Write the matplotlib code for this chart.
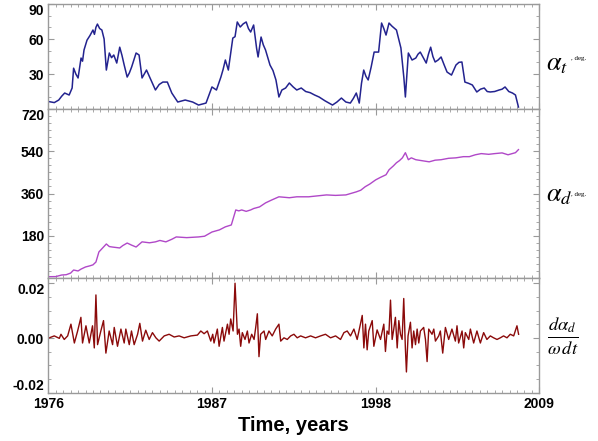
import matplotlib
matplotlib.use('Agg')
import matplotlib.pyplot as plt
from matplotlib.ticker import MultipleLocator

plt.rcParams['mathtext.fontset'] = 'stix'
plt.rcParams['font.family'] = ['Liberation Sans', 'DejaVu Sans']

# tilt angle, deg
tilt_years = [1976.07, 1976.4, 1976.7, 1976.9, 1977.1, 1977.4, 1977.6, 1977.7, 1977.85, 1978.0,
              1978.2, 1978.3, 1978.4, 1978.6, 1978.8, 1979.0, 1979.1, 1979.2, 1979.3, 1979.45,
              1979.6, 1979.75, 1979.9, 1980.1, 1980.25, 1980.4, 1980.6, 1980.8, 1980.95, 1981.1,
              1981.3, 1981.45, 1981.6, 1981.9, 1982.1, 1982.3, 1982.45, 1982.6, 1982.9, 1983.2,
              1983.45, 1983.7, 1984.0, 1984.3, 1984.7, 1985.2, 1985.7, 1986.1, 1986.6, 1987.0,
              1987.3, 1987.6, 1987.75, 1987.9, 1988.1, 1988.4, 1988.55, 1988.7, 1988.9, 1989.1,
              1989.3, 1989.45, 1989.6, 1989.8, 1990.0, 1990.1, 1990.3, 1990.45, 1990.6, 1990.9,
              1991.1, 1991.3, 1991.5, 1991.7, 1991.95, 1992.2, 1992.45, 1992.7, 1993.0, 1993.3,
              1993.6, 1993.9, 1994.2, 1994.6, 1995.1, 1995.4, 1995.7, 1996.0, 1996.3, 1996.5,
              1996.7, 1996.9, 1997.05, 1997.2, 1997.35, 1997.5, 1997.7, 1997.9, 1998.2, 1998.4,
              1998.55, 1998.7, 1998.9, 1999.1, 1999.4, 1999.55, 1999.7, 1999.9, 2000.0, 2000.2,
              2000.45, 2000.7, 2000.85, 2001.0, 2001.2, 2001.4, 2001.55, 2001.7, 2001.85, 2002.0,
              2002.2, 2002.4, 2002.6, 2002.8, 2003.1, 2003.4, 2003.6, 2003.8, 2004.0, 2004.25,
              2004.5, 2004.8, 2005.05, 2005.3, 2005.5, 2005.7, 2006.0, 2006.3, 2006.5, 2006.7,
              2006.95, 2007.2, 2007.4, 2007.6]
tilt_deg = [6.3, 5.5, 7.7, 11, 13.7, 12, 18, 35, 30, 26.6,
            43.7, 41, 50.6, 59, 63, 67.7, 64, 70, 72.8, 69,
            67.7, 60, 33.4, 48, 44, 46.3, 39.4, 53, 46, 37.7,
            27.4, 31, 36, 48, 46.3, 26.6, 30, 33.4, 24.9, 16.3,
            21, 23.1, 23.1, 13.7, 6, 7.7, 6, 3.4, 5.1, 18.9,
            16.3, 27.4, 34, 42, 33.4, 60.8, 62, 74.6, 70.3, 73,
            74.6, 69, 66, 72, 52, 44.6, 61.7, 55, 50.6, 37.7,
            33, 24.9, 10.3, 16.3, 18, 22.3, 19, 16.3, 18, 15,
            14, 12, 10.3, 7, 3.4, 6, 9.4, 6, 5.1, 9,
            13.7, 5.1, 22, 33.4, 28, 24.9, 36, 48.8, 48.8, 73.7,
            69, 63.4, 73.7, 71, 67.7, 60, 52.3, 26.6, 10.3, 48,
            42, 43.7, 47, 48.8, 44, 39.4, 47, 53, 45, 40.3,
            42, 44.6, 38, 31.7, 29.1, 37.7, 40, 40.3, 23.1, 22,
            20.6, 14.6, 17, 18, 15, 14.6, 15, 16.3, 17, 18.9,
            15, 13.7, 12, 1.7]

# drift angle, deg
drift_years = [1976.07, 1976.5, 1976.9, 1977.2, 1977.5, 1977.7, 1978.0, 1978.2, 1978.5, 1978.8,
               1979.0, 1979.2, 1979.4, 1979.65, 1979.9, 1980.1, 1980.3, 1980.8, 1981.0, 1981.3,
               1981.6, 1981.9, 1982.3, 1982.8, 1983.2, 1983.5, 1983.9, 1984.3, 1984.6, 1985.3,
               1986.1, 1986.5, 1987.0, 1987.5, 1987.9, 1988.3, 1988.6, 1988.8, 1989.0, 1989.3,
               1989.6, 1989.8, 1990.2, 1990.6, 1991.0, 1991.5, 1992.2, 1992.7, 1993.5, 1994.1,
               1994.7, 1995.3, 1996.0, 1996.7, 1997.0, 1997.3, 1997.6, 1998.0, 1998.3, 1998.7,
               1998.9, 1999.2, 1999.4, 1999.6, 1999.8, 2000.0, 2000.2, 2000.4, 2000.7, 2001.1,
               2001.6, 2002.0, 2002.4, 2002.9, 2003.4, 2003.9, 2004.3, 2004.7, 2005.1, 2005.6,
               2006.0, 2006.5, 2006.9, 2007.4, 2007.6]
drift_deg = [5.6, 6, 12.8, 14, 21, 34, 30, 38, 47, 52,
             56, 68, 111, 128, 145, 134, 132, 128, 138, 149,
             140, 132, 154, 150, 154, 160, 154, 165, 175, 172,
             175, 178, 196, 205, 218, 226, 290, 286, 290, 284,
             290, 296, 303, 320, 332, 346, 342, 346, 346, 350,
             354, 352, 354, 367, 374, 389, 400, 418, 428, 440,
             461, 478, 491, 500, 512, 534, 504, 512, 504, 500,
             495, 502, 504, 510, 512, 517, 517, 525, 530, 527,
             530, 533, 525, 534, 547]

# normalised drift rate
rate_years = [1976.07, 1976.40, 1976.74, 1976.85, 1977.07, 1977.30, 1977.52, 1977.75, 1977.97, 1978.19,
              1978.30, 1978.53, 1978.75, 1978.97, 1979.09, 1979.20, 1979.31, 1979.53, 1979.71, 1979.87,
              1980.09, 1980.32, 1980.43, 1980.65, 1980.88, 1981.10, 1981.21, 1981.44, 1981.59, 1981.77,
              1982.00, 1982.15, 1982.33, 1982.55, 1982.78, 1983.00, 1983.23, 1983.45, 1983.79, 1984.12,
              1984.46, 1984.79, 1985.13, 1985.58, 1986.02, 1986.25, 1986.47, 1986.69, 1986.92, 1987.05,
              1987.14, 1987.36, 1987.48, 1987.70, 1987.81, 1988.04, 1988.15, 1988.26, 1988.42, 1988.55,
              1988.71, 1988.82, 1988.93, 1989.04, 1989.22, 1989.38, 1989.49, 1989.67, 1989.83, 1989.94,
              1990.05, 1990.16, 1990.27, 1990.50, 1990.61, 1990.83, 1991.05, 1991.28, 1991.50, 1991.62,
              1991.84, 1992.06, 1992.29, 1992.51, 1992.73, 1992.96, 1993.29, 1993.63, 1993.96, 1994.30,
              1994.63, 1994.97, 1995.31, 1995.64, 1995.87, 1996.09, 1996.31, 1996.54, 1996.76, 1996.98,
              1997.10, 1997.21, 1997.32, 1997.43, 1997.54, 1997.77, 1997.88, 1998.10, 1998.33, 1998.55,
              1998.66, 1998.77, 1998.89, 1999.00, 1999.11, 1999.22, 1999.33, 1999.45, 1999.56, 1999.67,
              1999.78, 1999.89, 2000.00, 2000.07, 2000.18, 2000.34, 2000.45, 2000.56, 2000.68, 2000.79,
              2000.90, 2001.01, 2001.23, 2001.35, 2001.46, 2001.57, 2001.79, 2001.91, 2002.02, 2002.24,
              2002.35, 2002.51, 2002.69, 2002.91, 2003.13, 2003.36, 2003.47, 2003.58, 2003.81, 2003.92,
              2004.03, 2004.26, 2004.37, 2004.59, 2004.81, 2005.04, 2005.26, 2005.48, 2005.71, 2005.93,
              2006.16, 2006.38, 2006.60, 2006.83, 2007.05, 2007.28, 2007.50, 2007.61]
rate = [0.0001, 0.0008, -0.0001, 0.0014, -0.0005, 0.0008, 0.0051, -0.0018, 0.0026, 0.0076,
        -0.0018, 0.0045, -0.0018, 0.0045, -0.0036, 0.0158, -0.0024, 0.0026, 0.0064, -0.0055,
        0.0026, -0.0024, 0.0039, -0.0030, 0.0033, -0.0018, 0.0033, -0.0024, 0.0026, -0.0024,
        0.0014, 0.0054, -0.0011, 0.0029, -0.0005, 0.0020, 0.0001, -0.0011, 0.0008, 0.0014,
        0.0004, 0.0008, 0.0001, 0.0008, 0.0011, 0.0026, 0.0016, 0.0026, -0.0011, 0.0014,
        -0.0018, 0.0033, -0.0030, 0.0039, -0.0011, 0.0051, 0.0014, 0.0070, 0.0026, 0.0201,
        0.0014, 0.0033, -0.0030, 0.0020, -0.0005, 0.0026, -0.0018, 0.0014, -0.0005, 0.0039,
        0.0089, -0.0068, 0.0014, 0.0026, -0.0005, 0.0026, 0.0008, 0.0033, 0.0051, -0.0011,
        0.0001, -0.0005, 0.0008, 0.0014, 0.0001, 0.0008, 0.0001, 0.0008, 0.0001, 0.0008,
        0.0014, 0.0001, 0.0008, -0.0005, 0.0020, 0.0026, 0.0008, 0.0033, -0.0005, 0.0051,
        0.0083, -0.0036, 0.0051, -0.0043, 0.0026, 0.0064, -0.0030, 0.0030, -0.0005, 0.0051,
        -0.0049, 0.0026, 0.0014, 0.0139, -0.0005, 0.0033, 0.0076, -0.0036, 0.0064, 0.0014,
        -0.0005, 0.0145, -0.0036, -0.0124, 0.0008, 0.0058, -0.0036, 0.0026, -0.0024, 0.0033,
        -0.0018, 0.0026, 0.0039, -0.0005, -0.0086, 0.0033, 0.0014, 0.0033, -0.0011, 0.0008,
        0.0026, -0.0055, 0.0039, -0.0005, 0.0033, -0.0011, 0.0045, -0.0018, 0.0026, -0.0036,
        0.0020, -0.0005, 0.0033, -0.0018, 0.0026, -0.0018, 0.0020, -0.0005, 0.0008, 0.0001,
        -0.0005, 0.0001, 0.0008, 0.0001, 0.0014, 0.0008, 0.0045, 0.0014]

year_ticks = [1976, 1987, 1998, 2009]
frame_grey = '#9a9a9a'

fig = plt.figure(figsize=(5.98, 4.41), dpi=100)
left, width = 0.0808, 0.821
ax_top = fig.add_axes([left, 0.7528, width, 0.2381])
ax_mid = fig.add_axes([left, 0.3696, width, 0.3832])
ax_bot = fig.add_axes([left, 0.1095, width, 0.2601])

ax_top.plot(tilt_years, tilt_deg, color='#23238f', lw=1.1)
ax_mid.plot(drift_years, drift_deg, color='#b048c8', lw=1.0)
ax_bot.plot(rate_years, rate, color='#8b0a0a', lw=1.0)

ax_top.set_ylim(0, 90)
ax_top.set_yticks([30, 60, 90])
ax_top.yaxis.set_minor_locator(MultipleLocator(10))
ax_mid.set_ylim(0, 720)
ax_mid.set_yticks([180, 360, 540, 720])
ax_mid.yaxis.set_minor_locator(MultipleLocator(30))
ax_bot.set_ylim(-0.02, 0.022)
ax_bot.set_yticks([-0.02, 0.0, 0.02])
ax_bot.set_yticklabels(['-0.02', '0.00', '0.02'])
ax_bot.yaxis.set_minor_locator(MultipleLocator(0.005))

for ax in (ax_top, ax_mid, ax_bot):
    ax.set_xlim(1976, 2009)
    ax.set_xticks(year_ticks)
    ax.xaxis.set_minor_locator(MultipleLocator(0.5))
    for sp in ax.spines.values():
        sp.set_color(frame_grey)
        sp.set_linewidth(1.0)
    ax.tick_params(which='both', direction='in', top=True, right=True, color=frame_grey,
                   labelsize=10, pad=3)
    ax.tick_params(which='major', length=4)
    ax.tick_params(which='minor', length=2)
    for lab in ax.get_yticklabels():
        lab.set_fontweight('bold')
    # top label hangs below the panel edge
    ax.yaxis.get_major_ticks()[-1].label1.set_verticalalignment('top')

# lowest label of the bottom panel sits above the year labels
ax_bot.yaxis.get_major_ticks()[0].label1.set_verticalalignment('bottom')

ax_top.tick_params(axis='x', labelbottom=False)
ax_mid.tick_params(axis='x', labelbottom=False)
for lab in ax_bot.get_xticklabels():
    lab.set_fontweight('bold')

ax_bot.set_xlabel('Time, years', fontsize=14.5, fontweight='bold', labelpad=4)

# right-hand axis labels
fig.text(0.913, 0.855, r'$\alpha_{t}$', fontsize=19, va='center', ha='left')
fig.text(0.955, 0.868, ', deg.', fontsize=5, va='center', ha='left', family='Liberation Serif')
fig.text(0.913, 0.557, r'$\alpha_{d}$', fontsize=19, va='center', ha='left')
fig.text(0.955, 0.560, ', deg.', fontsize=5, va='center', ha='left', family='Liberation Serif')
fig.text(0.915, 0.240, r'$\frac{d\alpha_{d}}{\omega\, dt}$', fontsize=19, va='center', ha='left')

fig.savefig('out.png', dpi=100)
